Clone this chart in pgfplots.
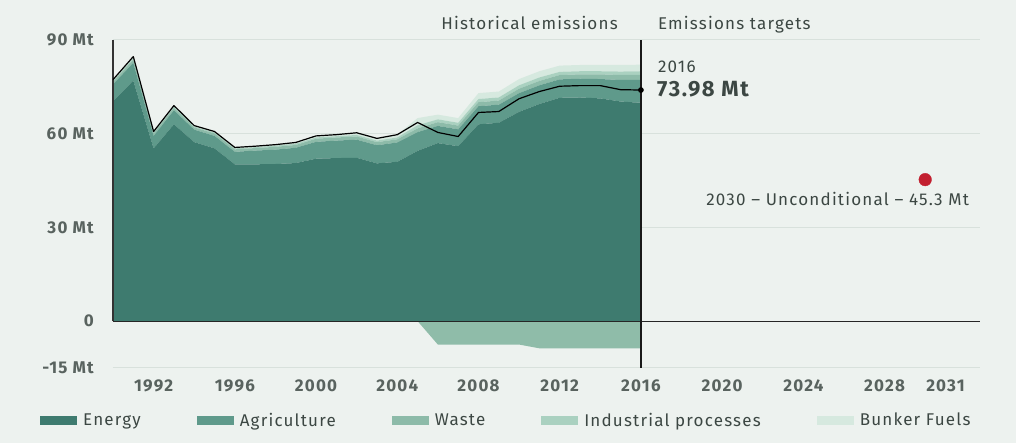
\documentclass[border=0pt]{standalone}
\usepackage{fontspec}
\setmainfont{Fira Sans}[LetterSpace=7]
\usepackage{pgfplots}
\usepackage{pgfplotstable}
\pgfplotsset{compat=1.18}
\usetikzlibrary{backgrounds}
\definecolor{bg}{HTML}{EDF2EF}
\definecolor{cE}{HTML}{3E7B6F}
\definecolor{cA}{HTML}{5F9A8B}
\definecolor{cW}{HTML}{8DBBA9}
\definecolor{cI}{HTML}{AAD1C0}
\definecolor{cB}{HTML}{D6E9DF}
\definecolor{cN}{HTML}{8FBCA9}
\definecolor{gridc}{HTML}{D8E1DC}
\definecolor{txt}{HTML}{3C4743}
\definecolor{redd}{HTML}{C21F2F}

\pgfplotstableread{
year E A W I B
1990 70.3 5.5 0.8 0.4 0.3
1991 77.0 5.7 1.0 0.5 0.5
1992 55.3 4.0 0.8 0.3 0.3
1993 63.0 4.5 0.8 0.4 0.3
1994 57.3 4.0 0.7 0.3 0.3
1995 55.3 4.0 0.8 0.3 0.3
1996 50.2 4.0 0.8 0.3 0.3
1997 50.2 4.4 0.8 0.3 0.3
1998 50.3 4.6 0.9 0.4 0.3
1999 50.6 4.9 0.9 0.4 0.4
2000 52.0 5.4 1.0 0.4 0.5
2001 52.2 5.6 1.0 0.4 0.5
2002 52.3 5.8 1.0 0.5 0.7
2003 50.5 5.8 1.0 0.5 0.7
2004 51.0 6.2 1.0 0.6 0.9
2005 54.5 6.0 1.2 1.0 2.3
2006 57.0 5.5 1.2 0.9 1.5
2007 56.0 5.4 1.2 0.9 1.5
2008 63.0 5.8 1.3 1.0 1.9
2009 63.5 5.8 1.3 1.0 1.9
2010 67.0 6.0 1.4 1.1 2.0
2011 69.5 6.0 1.4 1.1 2.0
2012 71.5 5.9 1.4 1.0 2.0
2013 71.6 6.0 1.4 1.0 2.0
2014 71.3 6.2 1.5 1.0 2.0
2015 70.3 6.9 1.6 1.1 2.1
2016 69.9 7.3 1.6 1.2 2.1
}\sectors

\pgfplotstableread{
year net
1990 77.3
1991 84.7
1992 60.7
1993 69.0
1994 62.6
1995 60.7
1996 55.6
1997 56.0
1998 56.5
1999 57.2
2000 59.3
2001 59.7
2002 60.3
2003 58.5
2004 59.7
2005 63.6
2006 60.4
2007 59.1
2008 66.8
2009 67.1
2010 71.2
2011 73.5
2012 75.2
2013 75.4
2014 75.4
2015 74.1
2016 73.98
}\nettotal

\pgfplotstableread{
year neg
2005 0
2006 -7.5
2007 -7.5
2008 -7.5
2009 -7.5
2010 -7.5
2011 -8.7
2012 -8.7
2013 -8.7
2014 -8.7
2015 -8.7
2016 -8.7
}\negative

\begin{document}
\begin{tikzpicture}[font=\fontsize{17}{20}\selectfont, text=txt]
\begin{axis}[
  name=main,
  scale only axis, width=867pt, height=328pt,
  xmin=1990, xmax=2032.7, ymin=-15, ymax=90,
  axis line style={draw=none},
  tick style={draw=none},
  ymajorgrids, grid style={gridc, line width=1pt},
  xtick={1992,1996,2000,2004,2008,2012,2016,2020,2024,2028,2031},
  xticklabels={1992,1996,2000,2004,2008,2012,2016,2020,2024,2028,2031},
  ytick={-15,0,30,60,90},
  yticklabels={-15 Mt,0,30 Mt,60 Mt,90 Mt},
  xticklabel style={anchor=north, inner sep=0pt, yshift=-12pt, font=\fontsize{17}{20}\selectfont\bfseries, text=txt!85},
  yticklabel style={anchor=east, inner sep=0pt, xshift=-19pt, font=\fontsize{17}{20}\selectfont\bfseries, text=txt!85},
  stack plots=y,
  legend columns=-1,
  legend style={at={(rel axis cs:-0.0842,-0.159)}, anchor=west, draw=none, fill=none,
    inner xsep=0pt, inner ysep=0pt, font=\fontsize{17}{20}\selectfont,
    /tikz/every even column/.append style={column sep=54pt}},
  legend image code/.code={\fill[#1] (0pt,-4.5pt) rectangle (37pt,4.5pt); \path (41pt,0pt);},
]
\addplot[fill=cE, draw=none] table[x=year, y=E]{\sectors} \closedcycle;
\addlegendentry{Energy}
\addplot[fill=cA, draw=none] table[x=year, y=A]{\sectors} \closedcycle;
\addlegendentry{Agriculture}
\addplot[fill=cW, draw=none] table[x=year, y=W]{\sectors} \closedcycle;
\addlegendentry{Waste}
\addplot[fill=cI, draw=none] table[x=year, y=I]{\sectors} \closedcycle;
\addlegendentry{Industrial processes}
\addplot[fill=cB, draw=none] table[x=year, y=B]{\sectors} \closedcycle;
\addlegendentry{Bunker Fuels}
\end{axis}

\begin{axis}[
  scale only axis, width=867pt, height=328pt,
  xmin=1990, xmax=2032.7, ymin=-15, ymax=90,
  hide axis, clip=false,
]
\addplot[fill=cN, draw=none] table[x=year, y=neg]{\negative} \closedcycle;
\draw[black!85, line width=1.2pt] (axis cs:1990,0) -- (axis cs:2032.7,0);
\draw[black!80, line width=1.2pt] (axis cs:1990,0) -- (axis cs:1990,90);
\draw[black!90, line width=1.3pt] (axis cs:2016,-15) -- (axis cs:2016,90);
\addplot[black, line width=1.2pt, line join=round] table[x=year, y=net]{\nettotal};
\addplot[only marks, mark=*, mark size=2.6pt, black] coordinates {(2016,73.98)};
\addplot[only marks, mark=*, mark size=6.3pt, redd, mark options={draw=redd, fill=redd}] coordinates {(2030,45.3)};
\node[anchor=base east, inner sep=0pt] at ([xshift=-23pt, yshift=10pt]axis cs:2016,90) {Historical emissions};
\node[anchor=base west, inner sep=0pt] at ([xshift=17pt, yshift=10pt]axis cs:2016,90) {Emissions targets};
\node[anchor=base west, inner sep=0pt] at ([xshift=17pt, yshift=-33pt]axis cs:2016,90) {2016};
\node[anchor=base west, inner sep=0pt, font=\fontsize{22}{26}\selectfont\bfseries] at ([xshift=16pt, yshift=-57pt]axis cs:2016,90) {73.98 Mt};
\node[anchor=base east, inner sep=0pt] at ([xshift=44pt, yshift=-26pt]axis cs:2030,45.3) {2030 – Unconditional – 45.3 Mt};
\end{axis}

\begin{scope}[on background layer]
\fill[bg] ([xshift=-113pt, yshift=-75pt]main.south west) rectangle ([xshift=36pt, yshift=40pt]main.north east);
\end{scope}
\pgfresetboundingbox
\path[use as bounding box] ([xshift=-113pt, yshift=-75pt]main.south west) rectangle ([xshift=36pt, yshift=40pt]main.north east);
\end{tikzpicture}
\end{document}
